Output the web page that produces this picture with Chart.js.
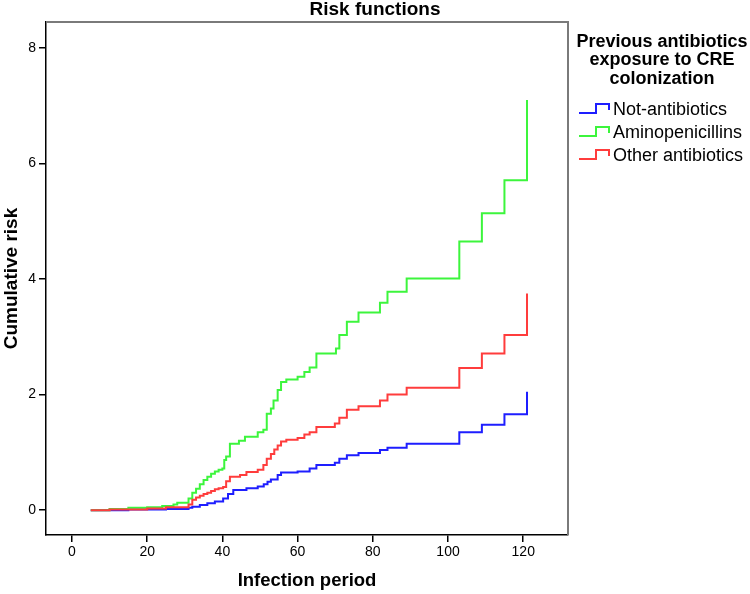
<!DOCTYPE html>
<html>
<head>
<meta charset="utf-8">
<script src="https://cdn.jsdelivr.net/npm/chart.js@4/dist/chart.umd.min.js"></script>
<style>
  html, body { margin: 0; padding: 0; background: #fff; }
  #wrap { width: 750px; height: 594px; }
</style>
</head>
<body>
<div id="wrap"><canvas id="chart" width="750" height="594"></canvas></div>
<script>
const xTicks = [0, 20, 40, 60, 80, 100, 120];
const yTicks = [0, 2, 4, 6, 8];

const chartTitle = 'Risk functions';
const legendTitle = ['Previous antibiotics', 'exposure to CRE', 'colonization'];
const seriesNames = ['Not-antibiotics', 'Aminopenicillins', 'Other antibiotics'];
const seriesColors = ['#1e1eff', '#3cf53c', '#ff3c3c'];

// event times and cumulative risk after each step
const notAbxX = [5, 15, 25, 31, 32, 34, 36, 38, 40.2, 41.5, 42.9, 46.4, 49.4, 51, 52, 52.9, 54.7, 55.6, 60, 63.2, 65, 69.9, 71.1, 73.1, 76.2, 81.9, 83.9, 89, 103, 109, 115, 121, 121];
const notAbxY = [0, 0.01, 0.02, 0.04, 0.06, 0.09, 0.12, 0.15, 0.2, 0.28, 0.35, 0.38, 0.41, 0.45, 0.49, 0.53, 0.61, 0.65, 0.67, 0.72, 0.78, 0.82, 0.89, 0.95, 0.99, 1.04, 1.08, 1.15, 1.35, 1.48, 1.66, 2.05, 2.05];

const aminoX = [5, 10, 15, 20, 24, 27, 28, 31, 32, 33, 34, 35, 36, 37, 38, 39, 40, 40.5, 41, 42, 44.4, 46, 49.4, 50.9, 51.8, 52.9, 53.6, 54.7, 55.6, 57, 60, 61.8, 63.2, 65, 70.2, 71.1, 73.1, 76.2, 81.9, 83.9, 89, 103, 109, 115, 121, 121];
const aminoY = [0, 0.02, 0.04, 0.05, 0.07, 0.1, 0.13, 0.2, 0.3, 0.37, 0.45, 0.52, 0.58, 0.63, 0.67, 0.7, 0.72, 0.87, 0.93, 1.15, 1.2, 1.27, 1.35, 1.39, 1.67, 1.76, 1.9, 2.08, 2.22, 2.26, 2.31, 2.39, 2.47, 2.71, 2.8, 3.03, 3.26, 3.42, 3.59, 3.78, 4.01, 4.65, 5.14, 5.71, 7.1, 7.1];

const otherX = [5, 10, 20, 25, 31, 32, 33, 34, 35, 36, 37, 38, 39, 40.2, 41, 42, 44.7, 46.4, 49.4, 50.9, 51.8, 52.9, 53.8, 54.7, 55.6, 57, 60, 61.8, 63.2, 65, 69.9, 71.1, 73.1, 76.2, 81.9, 83.9, 89, 103, 109, 115, 121, 121];
const otherY = [0, 0.01, 0.03, 0.05, 0.1, 0.18, 0.22, 0.25, 0.28, 0.3, 0.33, 0.36, 0.38, 0.4, 0.5, 0.58, 0.61, 0.66, 0.7, 0.78, 0.89, 0.97, 1.05, 1.12, 1.19, 1.22, 1.25, 1.31, 1.35, 1.44, 1.5, 1.6, 1.74, 1.8, 1.9, 2.0, 2.12, 2.46, 2.71, 3.03, 3.75, 3.75];

const seriesX = [notAbxX, aminoX, otherX];
const seriesY = [notAbxY, aminoY, otherY];
const drawOrder = [2, 1, 0];

const FONT = "'Liberation Sans', Arial, sans-serif";

function toPoints(xs, ys) {
  return xs.map((x, i) => ({ x, y: ys[i] }));
}

// title (centred on the whole canvas), top/right frame and the step legend
const frameAndLegend = {
  id: 'frameAndLegend',
  afterDraw(chart) {
    const { ctx, chartArea, width } = chart;
    ctx.save();
    ctx.strokeStyle = '#7a7a7a';
    ctx.lineWidth = 2;
    ctx.beginPath();
    ctx.moveTo(chartArea.left, chartArea.top);
    ctx.lineTo(chartArea.right, chartArea.top);
    ctx.lineTo(chartArea.right, chartArea.bottom);
    ctx.stroke();

    ctx.fillStyle = '#000';
    ctx.textAlign = 'center';
    ctx.textBaseline = 'middle';
    ctx.font = 'bold 19px ' + FONT;
    ctx.fillText(chartTitle, width / 2, 10);

    ctx.font = 'bold 18px ' + FONT;
    legendTitle.forEach((line, i) => ctx.fillText(line, 662, 42 + i * 18.3));

    ctx.textAlign = 'left';
    ctx.font = '18px ' + FONT;
    seriesNames.forEach((name, i) => {
      const y = 109 + i * 23;
      ctx.strokeStyle = seriesColors[i];
      ctx.lineWidth = 2;
      ctx.beginPath();
      ctx.moveTo(579, y + 4);
      ctx.lineTo(596, y + 4);
      ctx.lineTo(596, y - 5);
      ctx.lineTo(609, y - 5);
      ctx.lineTo(609, y + 1);
      ctx.stroke();
      ctx.fillText(name, 613, y + 1);
    });
    ctx.restore();
  }
};

new Chart(document.getElementById('chart'), {
  type: 'scatter',
  data: {
    datasets: seriesNames.map((name, i) => ({
      label: name,
      data: toPoints(seriesX[i], seriesY[i]),
      showLine: true,
      stepped: 'before',
      borderColor: seriesColors[i],
      borderWidth: 2,
      pointRadius: 0,
      pointHoverRadius: 0,
      fill: false,
      order: drawOrder[i]
    }))
  },
  options: {
    responsive: false,
    animation: false,
    layout: { padding: { left: 0, right: 182, top: 22, bottom: 0 } },
    plugins: {
      legend: { display: false },
      tooltip: { enabled: false },
      title: { display: false }
    },
    scales: {
      x: {
        type: 'linear',
        min: -6.9,
        max: 131.9,
        afterBuildTicks: (axis) => { axis.ticks = xTicks.map((v) => ({ value: v })); },
        afterFit: (axis) => { axis.height = 59; },
        grid: { display: true, drawOnChartArea: false, drawTicks: true, tickLength: 7, color: '#000', lineWidth: 1.5 },
        border: { display: true, color: '#000', width: 1.5 },
        ticks: { color: '#000', font: { family: FONT, size: 14 }, padding: 2, maxRotation: 0 },
        title: {
          display: true,
          text: 'Infection period',
          color: '#000',
          font: { family: FONT, size: 18.5, weight: 'bold' },
          padding: { top: 4, bottom: 2 }
        }
      },
      y: {
        type: 'linear',
        min: -0.43,
        max: 8.45,
        afterBuildTicks: (axis) => { axis.ticks = yTicks.map((v) => ({ value: v })); },
        afterFit: (axis) => { axis.width = 46; },
        grid: { display: true, drawOnChartArea: false, drawTicks: true, tickLength: 7, color: '#000', lineWidth: 1.5 },
        border: { display: true, color: '#000', width: 1.5 },
        ticks: { color: '#000', font: { family: FONT, size: 14 }, padding: 3 },
        title: {
          display: true,
          text: 'Cumulative risk',
          color: '#000',
          font: { family: FONT, size: 19, weight: 'bold' },
          padding: { top: 0, bottom: 2 }
        }
      }
    }
  },
  plugins: [frameAndLegend]
});
</script>
</body>
</html>
